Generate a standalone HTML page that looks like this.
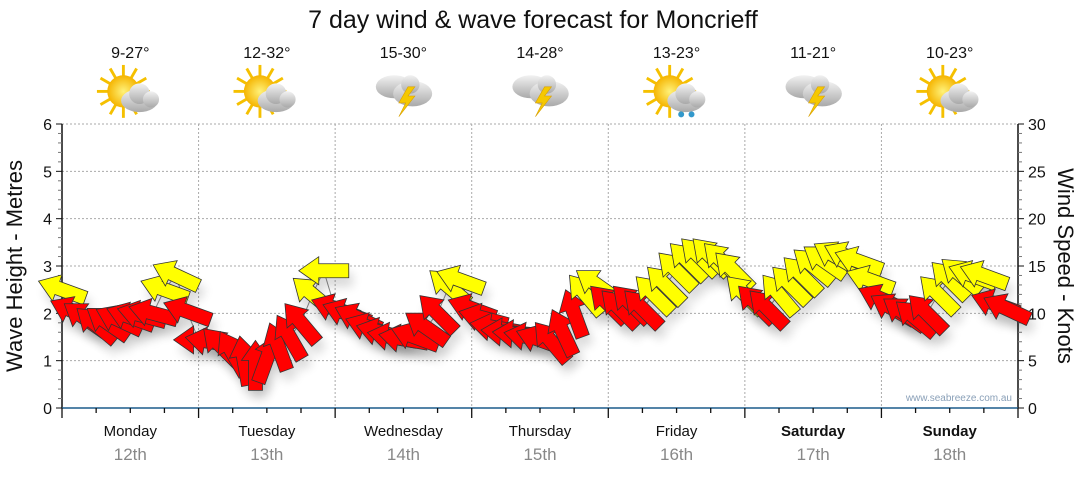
<!DOCTYPE html>
<html><head><meta charset="utf-8"><style>
body{margin:0;background:#fff;width:1080px;height:475px;overflow:hidden}
svg text{font-family:"Liberation Sans",sans-serif}
</style></head><body>
<svg id="c" width="1080" height="475" xmlns="http://www.w3.org/2000/svg">
<defs>
<filter id="sh" x="-50%" y="-50%" width="200%" height="200%"><feGaussianBlur stdDeviation="5"/></filter>
<radialGradient id="sun" cx="50%" cy="50%" r="50%"><stop offset="0" stop-color="#fff27a"/><stop offset="1" stop-color="#f5b400"/></radialGradient>
<linearGradient id="cl" x1="0" y1="0" x2="0" y2="1"><stop offset="0" stop-color="#f2f2f2"/><stop offset="1" stop-color="#a9a9a9"/></linearGradient>
</defs>
<text x="533" y="28" font-size="25" text-anchor="middle" fill="#111">7 day wind &amp; wave forecast for Moncrieff</text>
<g id="grid"></g>
<g id="axes"></g>
<g id="icons"></g>
<g id="marks"></g>
<text transform="translate(22,266) rotate(-90)" font-size="22" text-anchor="middle" fill="#111">Wave Height - Metres</text>
<text transform="translate(1058,266) rotate(90)" font-size="22" text-anchor="middle" fill="#111">Wind Speed - Knots</text>
<text x="1012" y="401" font-size="10" text-anchor="end" fill="#8aa0b8">www.seabreeze.com.au</text>
</svg>
<script>
const days=["Monday","Tuesday","Wednesday","Thursday","Friday","Saturday","Sunday"];
const dates=["12th","13th","14th","15th","16th","17th","18th"];
const temps=["9-27°","12-32°","15-30°","14-28°","13-23°","11-21°","10-23°"];
const icons=["suncloud","suncloud","storm","storm","sunrain","storm","suncloud"];
const waveTicks=[0,1,2,3,4,5,6];
const windTicks=[0,5,10,15,20,25,30];
const windKnots=[12.5,10.2,9.5,8.8,9,9.3,9.6,9.8,10,12.5,14,10.2,
 7.2,7,6.5,5.8,5,4.5,5.2,6.5,7.5,9,12,14.5,
 10.5,10,9.5,8.5,8,7.5,7.3,7.5,8.5,10,12.8,13.5,
 10.5,9.5,8.5,8,7.8,7.5,7.2,7,8,10,12,13,
 11,10.5,11,10.5,12,13,14.5,15.5,16,16,15.5,14.5,
 12,11,10.5,12,13,14,15,15.5,16,16,15.5,13.5,
 11.5,10.5,10,9.5,10,12,13.5,14,14,14,11,10.5];
const windDir=[200,205,215,220,215,205,200,195,195,200,205,200,
 180,190,225,240,260,270,290,250,240,230,220,180,
 200,200,205,200,195,190,190,200,215,225,220,200,
 200,195,190,185,185,190,200,230,245,250,230,215,
 225,225,225,225,225,225,225,225,225,225,225,225,
 225,225,225,230,225,225,220,215,210,205,200,200,
 205,210,215,220,225,225,225,220,200,200,200,205];
const X0=62,X1=1018,Y0=408,Y1=124,NS="http://www.w3.org/2000/svg";
const dw=(X1-X0)/7;
const xT=h=>X0+h/(24*7)*(X1-X0);
const yW=m=>Y0-m/6*(Y0-Y1);
const yK=k=>Y0-k/30*(Y0-Y1);
function mk(tag,parent,attrs){const e=document.createElementNS(NS,tag);for(const k in attrs)e.setAttribute(k,attrs[k]);document.getElementById(parent).appendChild(e);return e;}
waveTicks.forEach(t=>{if(t>0){const l=mk('line','grid',{x1:X0,x2:X1,y1:yW(t),y2:yW(t),stroke:'#aaa','stroke-dasharray':'2,2'});

}});
for(let d=1;d<7;d++){const l=mk('line','grid',{x1:X0+d*dw,x2:X0+d*dw,y1:Y1,y2:Y0,stroke:'#aaa','stroke-dasharray':'2,2'});

}
let a=mk('line','axes',{x1:X0,x2:X0,y1:Y1,y2:Y0,stroke:'#111','stroke-width':1.5});


a=mk('line','axes',{x1:X1,x2:X1,y1:Y1,y2:Y0,stroke:'#111','stroke-width':1.5});


a=mk('line','axes',{x1:X0,x2:X1,y1:Y0,y2:Y0,stroke:'#1b5c8c','stroke-width':1.5});


waveTicks.forEach(t=>{mk('line','axes',{x1:X0-6,x2:X0,y1:yW(t),y2:yW(t),stroke:'#111'});
const tx=mk('text','axes',{x:X0-10,y:yW(t)+6,'font-size':16,'text-anchor':'end',fill:'#111'});tx.textContent=t;


if(t<6)for(let i=1;i<5;i++)mk('line','axes',{x1:X0-4,x2:X0,y1:yW(t+i/5),y2:yW(t+i/5),stroke:'#777'});});
windTicks.forEach(t=>{mk('line','axes',{x1:X1,x2:X1+6,y1:yK(t),y2:yK(t),stroke:'#111'});
const tx=mk('text','axes',{x:X1+10,y:yK(t)+6,'font-size':16,fill:'#111'});tx.textContent=t;


if(t<30)for(let i=1;i<5;i++)mk('line','axes',{x1:X1,x2:X1+4,y1:yK(t+i),y2:yK(t+i),stroke:'#777'});});
for(let q=0;q<=28;q++){mk('line','axes',{x1:X0+q*dw/4,x2:X0+q*dw/4,y1:Y0,y2:Y0+(q%4==0?10:5),stroke:'#111','stroke-width':1.3});}
days.forEach((d,i)=>{const cx=X0+(i+.5)*dw;
const t=mk('text','axes',{x:cx,y:436,'font-size':15,'text-anchor':'middle',fill:'#111','font-weight':i>=5?'bold':'normal'});t.textContent=d;


const t2=mk('text','axes',{x:cx,y:460,'font-size':17,'text-anchor':'middle',fill:'#888'});t2.textContent=dates[i];


const t3=mk('text','icons',{x:cx,y:58,'font-size':16,'text-anchor':'middle',fill:'#111'});t3.textContent=temps[i];


const g=mk('g','icons',{transform:`translate(${cx},96) scale(1.15)`});


const ic=icons[i];let s='';
if(ic!='storm'){for(let r=0;r<12;r++){const an=r*30*Math.PI/180;s+=`<line x1="${-6+Math.cos(an)*10}" y1="${-4+Math.sin(an)*10}" x2="${-6+Math.cos(an)*23}" y2="${-4+Math.sin(an)*23}" stroke="#f5c000" stroke-width="2.5"/>`;}
s+=`<circle cx="-6" cy="-4" r="14" fill="url(#sun)"/>`;
s+=`<ellipse cx="8" cy="4" rx="16" ry="10" fill="url(#cl)"/><circle cx="8" cy="-2" r="9" fill="url(#cl)"/><circle cx="18" cy="3" r="7" fill="url(#cl)"/>`;
if(ic=='sunrain')s+=`<circle cx="4" cy="16" r="2.6" fill="#39c"/><circle cx="13" cy="16" r="2.6" fill="#39c"/>`;}
else{s+=`<ellipse cx="-8" cy="-8" rx="16" ry="10" fill="url(#cl)"/><ellipse cx="8" cy="-2" rx="17" ry="11" fill="url(#cl)"/><circle cx="6" cy="-10" r="8" fill="url(#cl)"/><polygon points="4,-8 -4,6 2,6 -4,18 10,0 4,0 10,-8" fill="#f5c800" stroke="#d9a000" stroke-width=".5"/>`;}
g.innerHTML=s;});
const step=24/12;
const pts=windKnots.map((k,i)=>[xT(i*step),yK(k)]);
const ln=mk('polyline','marks',{points:pts.map(p=>p.join(',')).join(' '),fill:'none',stroke:'#888','stroke-width':1});


const arr="-25,-7 5,-7 5,-14 25,0 5,14 5,7 -25,7";
pts.forEach((p,i)=>{const sh=mk('polygon','marks',{points:arr,fill:'#000',opacity:.15,filter:'url(#sh)',transform:`translate(${p[0]+4},${p[1]+9}) rotate(${windDir[i]})`});

});
pts.forEach((p,i)=>{const g=mk('polygon','marks',{points:arr,fill:windKnots[i]>=12?'#ffff00':'#ff0000',stroke:'#333','stroke-width':.8,transform:`translate(${p[0]},${p[1]}) rotate(${windDir[i]})`});

});
</script>
</body></html>
